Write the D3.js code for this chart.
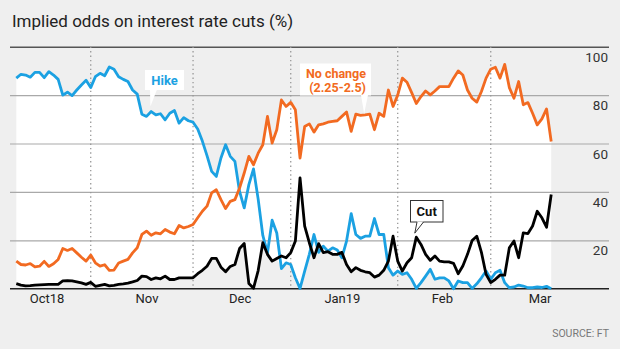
<!DOCTYPE html>
<html><head><meta charset="utf-8">
<script src="https://cdn.jsdelivr.net/npm/d3@7"></script>
<style>
body{margin:0;background:#efefef;}
svg{display:block;font-family:Roboto, "Noto Sans", sans-serif;}
</style>
</head><body>
<svg id="chart" width="620" height="349"></svg>
<script>
// ---- data (weekday observations, 10 Oct 2018 – 20 Mar 2019) ----
const startDate = "2018-10-10";
const hike = [
 87, 88.6, 88.3, 87.4, 89.4, 89.4, 87.2, 89.7, 88.3, 86.5,
 80, 81.2, 79.8, 82.1, 84.2, 86.1, 83.1, 87.6, 89, 88,
 91.6, 90.7, 87.6, 86.5, 85.6, 82.1, 80.4, 72.1, 71.2, 73.2,
 71.8, 72.3, 69.8, 72.5, 73.6, 68.4, 70.7, 69.4, 68.8, 66,
 61, 55, 48.5, 46.4, 54, 59.5, 54.7, 52.6, 40.2, 33.4,
 43, 49.5, 37, 22, 14.8, 28.3, 23, 8.3, 10.7, 10,
 4.5, 0.1, 7.3, 14.2, 22.4, 15, 17.6, 15.5, 16.9, 16,
 12.8, 19.7, 31, 22.4, 20.8, 21.7, 21.7, 29, 22.4, 22.4,
 8.7, 5.6, 7.3, 5.9, 6.6, 3.9, 0.1, 2.5, 5.2, 8,
 3.9, 4.5, 4.5, 3.2, 0, 3.2, 2.5, 2.5, 0.1, 2,
 4.5, 7.3, 3.9, 6.6, 7.6, 2.5, 0.4, 0.7, 1.5, 1.1,
 0.4, 0.4, 0.7, 0.5, 1, 0
];
const noChange = [
 11.4, 10, 9.8, 10.4, 9, 9.3, 11.3, 9.2, 10.3, 12.1,
 16.6, 15.8, 16.6, 14.8, 13, 11.4, 13.9, 10.7, 9.3, 9.9,
 7.6, 7.7, 10.6, 11.4, 12.1, 14.8, 16.9, 22.4, 23.8, 22.1,
 23.1, 22.7, 24.5, 23.4, 22.7, 26.1, 25.1, 25.7, 26.5, 29.3,
 32, 34.1, 39.6, 40.9, 36.8, 33.1, 36.1, 36.8, 41.6, 47.8,
 54.7, 51.2, 56, 59.5, 71.2, 60.2, 65.7, 78, 75.3, 77,
 73.9, 54, 67, 68.1, 64.7, 67.7, 68.1, 68.8, 69.1, 69.4,
 71.2, 73, 65, 72.1, 71.6, 71.8, 72.1, 65.7, 72.5, 71.2,
 82.1, 75.3, 80, 87, 85.3, 81, 76.5, 79.4, 81.7, 80.1,
 81.7, 83.5, 83.5, 83.5, 87, 90, 88.3, 82.1, 78.7, 77.1,
 81.5, 87, 90.7, 91.5, 87, 92.7, 83.1, 78.7, 85.6, 76,
 76.9, 72.5, 67.7, 70.2, 74.3, 60.8
];
const cut = [
 2.1, 1.5, 1.2, 1.3, 1.5, 1.6, 1.7, 1.8, 1.8, 1.8,
 3.2, 3.3, 3.2, 2.8, 2.4, 1.8, 2.6, 1.0, 1.4, 1.8,
 1.2, 1.4, 1.8, 2.0, 2.3, 2.8, 3.4, 5.2, 5.0, 3.8,
 4.5, 4.1, 5.2, 3.8, 3.8, 4.5, 4.5, 4.5, 4.5, 6.2,
 7.6, 9.3, 12.5, 12.5, 8.9, 7, 9.2, 10, 16.6, 18.7,
 2.1, 0.2, 7.5, 19, 14.2, 11.4, 12.5, 13.5, 12.8, 14.9,
 19.7, 45.8, 25.9, 19, 12.8, 18.6, 14.9, 15.3, 14.2, 14.2,
 15, 10, 7, 8.7, 7.6, 7, 6.6, 4.8, 5.6, 7.6,
 11.4, 21.7, 11.4, 7.3, 10.7, 12.8, 21.3, 18.3, 14.2, 11.7,
 13.5, 11.4, 11.1, 11.1, 10.5, 6.2, 9.4, 14.2, 19.9, 21.7,
 15, 5.9, 2.5, 3.9, 5.6, 5.6, 16.9, 19.7, 12.8, 23.1,
 22.8, 25.9, 32, 29.3, 25.4, 38.9
];
const monthLabels = ["Oct18", "Nov", "Dec", "Jan19", "Feb", "Mar"];
const monthLabelAt = [6.5, 28, 48, 70, 91.5, 112.5]; // observation index
const yTicks = [20, 40, 60, 80, 100];

// ---- weekday calendar of the observations ----
const dates = [];
{
  const d = new Date(startDate + "T12:00:00");
  while (dates.length < hike.length) {
    const wd = d.getDay();
    if (wd !== 0 && wd !== 6) dates.push(new Date(d));
    d.setDate(d.getDate() + 1);
  }
}
const monthStarts = dates.map((dt, i) => (i > 0 && dt.getMonth() !== dates[i - 1].getMonth()) ? i : -1).filter(i => i >= 0);

const svg = d3.select("#chart");
const x = d3.scaleLinear().domain([0, hike.length - 1]).range([16.3, 551.2]);
const y = d3.scaleLinear().domain([0, 100]).range([288.7, 46.7]);

// background
svg.append("rect").attr("width", 620).attr("height", 349).attr("fill", "#efefef");

// white envelope between the highest and lowest series
const series = [hike, noChange, cut];
const idx = d3.range(hike.length);
svg.append("path")
  .datum(idx)
  .attr("fill", "#ffffff")
  .attr("d", d3.area()
    .x(i => x(i))
    .y0(i => y(d3.min(series, s => s[i])))
    .y1(i => y(d3.max(series, s => s[i]))));

// gridlines + y labels
const gy = svg.append("g")
  .attr("transform", "translate(10,0)")
  .call(d3.axisRight(y).tickValues(yTicks).tickSize(599).tickFormat(d3.format("d")));
gy.select(".domain").remove();
gy.attr("font-family", null).attr("font-size", null);
gy.selectAll(".tick line")
  .attr("stroke", d => d === 100 ? "#555" : "#a9a9a9")
  .attr("stroke-width", d => d === 100 ? 1.5 : 1.2);
gy.selectAll(".tick text")
  .attr("x", 598).attr("y", 0).attr("dy", 14.5)
  .attr("text-anchor", "end")
  .attr("fill", "#333")
  .style("font-size", "13.5px");

// month separators (dotted)
svg.append("g").selectAll("line").data(monthStarts).join("line")
  .attr("x1", i => x(i)).attr("x2", i => x(i))
  .attr("y1", y(100)).attr("y2", y(0))
  .attr("stroke", "#999").attr("stroke-width", 1.3)
  .attr("stroke-dasharray", "1.4,3");

// baseline
svg.append("line")
  .attr("x1", 10).attr("x2", 609).attr("y1", y(0)).attr("y2", y(0))
  .attr("stroke", "#222").attr("stroke-width", 1.6);

// x labels
const gx = svg.append("g")
  .attr("transform", `translate(0,${y(0)})`)
  .call(d3.axisBottom(x).tickValues(monthLabelAt).tickSize(0).tickPadding(0)
    .tickFormat((d, i) => monthLabels[i]));
gx.select(".domain").remove();
gx.attr("font-family", null).attr("font-size", null);
gx.selectAll(".tick text")
  .attr("y", 0).attr("dy", 14.3)
  .attr("fill", "#222")
  .style("font-size", "13px");

// lines
const line = d3.line().x((d, i) => x(i)).y(d => y(d));
const styles = [
  {data: hike, color: "#1ba1e2"},
  {data: noChange, color: "#f26a21"},
  {data: cut, color: "#000000"}
];
svg.append("g").selectAll("path").data(styles).join("path")
  .attr("d", s => line(s.data))
  .attr("fill", "none")
  .attr("stroke", s => s.color)
  .attr("stroke-width", 2.8)
  .attr("stroke-linejoin", "round");

// ---- annotations ----
// Hike
const hk = svg.append("g");
hk.append("rect").attr("x", 145).attr("y", 70).attr("width", 39).attr("height", 20).attr("fill", "#fff");
hk.append("path").attr("d", `M150,89.5 L157,89.5 L${x(29) - 0.8},${y(hike[29]) - 5} Z`).attr("fill", "#fff");
hk.append("text").attr("x", 164.5).attr("y", 84.5).attr("text-anchor", "middle")
  .attr("fill", "#1ba1e2").attr("font-weight", "bold").style("font-size", "13px").text("Hike");

// No change
const nc = svg.append("g");
nc.append("rect").attr("x", 300).attr("y", 63.5).attr("width", 71).attr("height", 32).attr("fill", "#fff");
nc.append("path").attr("d", `M361,95 L368,95 L${x(75) - 1},${y(noChange[75]) - 1.5} Z`).attr("fill", "#fff");
nc.append("text").attr("x", 366).attr("y", 77.5).attr("text-anchor", "end")
  .attr("fill", "#f26a21").attr("font-weight", "bold").style("font-size", "12.5px").text("No change");
nc.append("text").attr("x", 366).attr("y", 92).attr("text-anchor", "end")
  .attr("fill", "#f26a21").attr("font-weight", "bold").style("font-size", "12.5px").text("(2.25-2.5)");

// Cut
const ct = svg.append("g");
ct.append("rect").attr("x", 410.5).attr("y", 200.5).attr("width", 32.5).attr("height", 21.5)
  .attr("fill", "#fff").attr("stroke", "#333").attr("stroke-width", 1);
const tipX = x(86) - 1.5, tipY = y(cut[86]) - 4;
ct.append("path").attr("d", `M417,221.5 L${tipX},${tipY} L423.5,221.5 Z`).attr("fill", "#fff");
ct.append("path").attr("d", `M417,222 L${tipX},${tipY} L423.5,222`).attr("fill", "none")
  .attr("stroke", "#333").attr("stroke-width", 1);
ct.append("text").attr("x", 426.7).attr("y", 216).attr("text-anchor", "middle")
  .attr("fill", "#111").attr("font-weight", "bold").style("font-size", "13px").text("Cut");

// title & source
svg.append("text").attr("x", 12).attr("y", 26.5).attr("fill", "#222")
  .style("font-size", "17px").text("Implied odds on interest rate cuts (%)");
svg.append("text").attr("x", 609).attr("y", 337).attr("text-anchor", "end").attr("fill", "#777")
  .style("font-size", "10.5px").text("SOURCE: FT");
</script>
</body></html>
